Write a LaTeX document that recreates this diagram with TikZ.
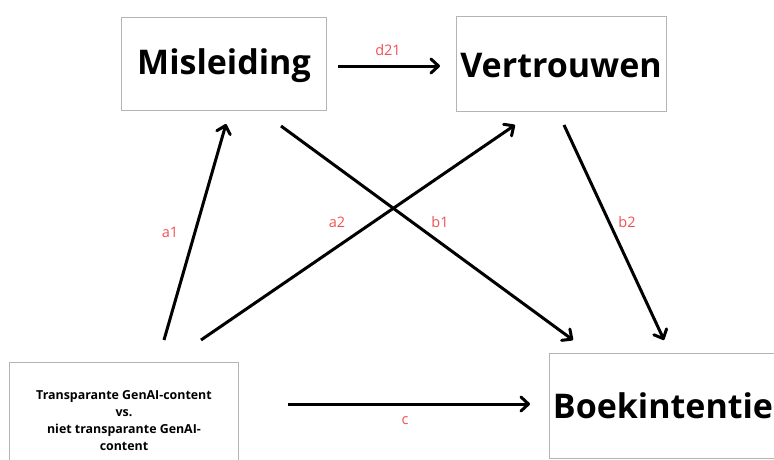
\documentclass[tikz,border=0pt]{standalone}
\usepackage{fontspec}
\setmainfont{Open Sans}
\usetikzlibrary{arrows.meta}
\definecolor{lbl}{HTML}{F05252}
\definecolor{boxc}{HTML}{B4B4B4}
\tikzset{
  box/.style={draw=boxc, line width=0.8pt, anchor=north west, inner sep=0pt},
  big/.style={font=\fontsize{34}{40}\selectfont\bfseries},
  conn/.style={line width=3pt, -{Straight Barb[length=7.5pt,width=14pt,line join=round,line cap=round]}},
  lab/.style={text=lbl, font=\fontsize{14.5}{16}\selectfont},
}
\begin{document}
\begin{tikzpicture}[x=1pt,y=-1pt]
\useasboundingbox (0,0) rectangle (774,459);
\clip (0,0) rectangle (774,459);
% boxes
\draw[box] (121,17) rectangle (326,110);
\draw[box] (456,16) rectangle (666,111);
\draw[box] (549,353) rectangle (780,458);
\draw[box] (9,362) rectangle (238,470);
\node[big] (mis) at (224,66) {Misleiding};
\node[big] (ver) at (561,66) {Vertrouwen};
\node[big] (boe) at (663,406) {Boekintentie};
\node[align=center, font=\fontsize{12.4}{17}\selectfont\bfseries] (tra) at (124,421)
  {Transparante GenAI-content\\vs.\\niet transparante GenAI-\\content};
% connector endpoints
\coordinate (d1) at (338,66);  \coordinate (d2) at (440,66);
\coordinate (a1s) at (164,340); \coordinate (a1e) at (226,124);
\coordinate (a2s) at (201,340); \coordinate (a2e) at (515,125);
\coordinate (b1s) at (281,126); \coordinate (b1e) at (573,340);
\coordinate (b2s) at (564,125); \coordinate (b2e) at (664,340);
\coordinate (cs) at (288,404);  \coordinate (ce) at (530,404);
\draw[conn] (d1) -- (d2);
\draw[conn] (a1s) -- (a1e);
\draw[conn] (a2s) -- (a2e);
\draw[conn] (b1s) -- (b1e);
\draw[conn] (b2s) -- (b2e);
\draw[conn] (cs) -- (ce);
% labels
\node[lab] (ld) at (388,50) {d21};
\node[lab] (la1) at (170,232) {a1};
\node[lab] (la2) at (337,222) {a2};
\node[lab] (lb1) at (440,222) {b1};
\node[lab] (lb2) at (627,222) {b2};
\node[lab] (lc) at (405,421) {c};
\end{tikzpicture}
\end{document}
